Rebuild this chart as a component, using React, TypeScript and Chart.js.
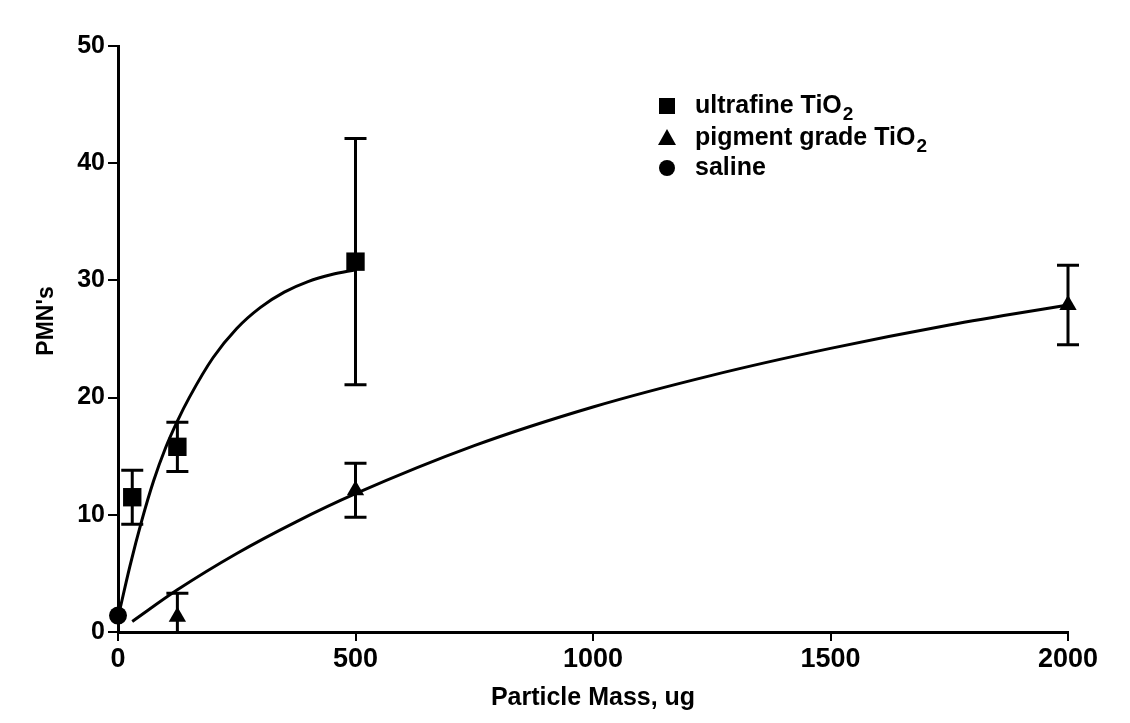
import React, { useEffect, useRef } from "react";
import { Chart, registerables } from "chart.js";

Chart.register(...registerables);

// Measured group means (PMN count) and error half-widths
const ultrafineDose = [30, 125, 500];
const ultrafinePMN = [11.5, 15.8, 31.6];
const ultrafineErr = [2.3, 2.1, 10.5];

const pigmentDose = [125, 500, 2000];
const pigmentPMN = [1.3, 12.1, 27.9];
const pigmentErr = [2.0, 2.3, 3.4];

const salineDose = [0];
const salinePMN = [1.4];

// Fitted dose-response curves
const ultrafineFitDose = [0, 25, 50, 75, 100, 125, 150, 200, 250, 300, 350, 400, 450, 500];
const ultrafineFitPMN = [1.2, 5.6, 9.5, 12.9, 15.7, 18.0, 20.0, 23.4, 25.9, 27.7, 29.0, 29.9, 30.5, 30.9];

const pigmentFitDose = [30, 125, 250, 375, 500, 750, 1000, 1250, 1500, 1750, 2000];
const pigmentFitPMN = [0.9, 3.6, 6.7, 9.4, 11.8, 15.9, 19.2, 21.9, 24.2, 26.2, 27.9];

// Axis ticks and labels
const xTicks = [0, 500, 1000, 1500, 2000];
const yTicks = [0, 10, 20, 30, 40, 50];
const xTitle = "Particle Mass, ug";
const yTitle = "PMN's";
const legendNames = ["ultrafine TiO", "pigment grade TiO", "saline"];
const legendSub = ["2", "2", ""];

const FONT = "'Liberation Sans', Arial, Helvetica, sans-serif";

const toPoints = (xs: number[], ys: number[]) => xs.map((x, i) => ({ x, y: ys[i] }));

const errorBarPlugin = {
  id: "errorBars",
  afterDatasetsDraw(chart: any) {
    const { ctx, scales, chartArea } = chart;
    const xs = scales.x;
    const ys = scales.y;
    const groups = [
      { d: ultrafineDose, m: ultrafinePMN, e: ultrafineErr },
      { d: pigmentDose, m: pigmentPMN, e: pigmentErr },
    ];
    ctx.save();
    ctx.beginPath();
    ctx.rect(chartArea.left - 20, chartArea.top - 20, chartArea.right - chartArea.left + 40, chartArea.bottom - chartArea.top + 20);
    ctx.clip();
    ctx.strokeStyle = "#000";
    ctx.lineWidth = 3;
    const cap = 11;
    groups.forEach((g) => {
      g.d.forEach((dose, i) => {
        const px = xs.getPixelForValue(dose);
        const top = ys.getPixelForValue(g.m[i] + g.e[i]);
        const bot = ys.getPixelForValue(g.m[i] - g.e[i]);
        ctx.beginPath();
        ctx.moveTo(px, top);
        ctx.lineTo(px, bot);
        ctx.moveTo(px - cap, top);
        ctx.lineTo(px + cap, top);
        ctx.moveTo(px - cap, bot);
        ctx.lineTo(px + cap, bot);
        ctx.stroke();
      });
    });
    ctx.restore();
  },
};

const annotationPlugin = {
  id: "titlesAndKey",
  afterDraw(chart: any) {
    const { ctx } = chart;
    ctx.save();
    ctx.fillStyle = "#000";

    // rotated y-axis title
    ctx.save();
    ctx.translate(47, 321);
    ctx.rotate(-Math.PI / 2);
    ctx.font = `bold 23px ${FONT}`;
    ctx.textAlign = "center";
    ctx.textBaseline = "middle";
    ctx.fillText(yTitle, 0, 0);
    ctx.restore();

    // key
    const mx = 667;
    const tx = 695;
    const rows = [106, 138, 168];
    ctx.textBaseline = "middle";
    ctx.textAlign = "left";
    rows.forEach((ry, i) => {
      ctx.beginPath();
      if (i === 0) {
        ctx.rect(mx - 8, ry - 8, 16, 16);
      } else if (i === 1) {
        ctx.moveTo(mx, ry - 9);
        ctx.lineTo(mx + 9, ry + 7);
        ctx.lineTo(mx - 9, ry + 7);
        ctx.closePath();
      } else {
        ctx.arc(mx, ry, 8, 0, Math.PI * 2);
      }
      ctx.fill();
      ctx.font = `bold 25px ${FONT}`;
      ctx.fillText(legendNames[i], tx, ry);
      if (legendSub[i]) {
        const w = ctx.measureText(legendNames[i]).width;
        ctx.font = `bold 19px ${FONT}`;
        ctx.fillText(legendSub[i], tx + w + 1, ry + 9);
      }
    });
    ctx.restore();
  },
};

export default function App() {
  const canvasRef = useRef<HTMLCanvasElement | null>(null);

  useEffect(() => {
    const canvas = canvasRef.current;
    if (!canvas) return;
    const chart = new Chart(canvas, {
      type: "scatter",
      data: {
        datasets: [
          {
            label: "ultrafine fit",
            data: toPoints(ultrafineFitDose, ultrafineFitPMN),
            showLine: true,
            borderColor: "#000",
            borderWidth: 3,
            pointRadius: 0,
            cubicInterpolationMode: "monotone",
            clip: false,
          },
          {
            label: "pigment fit",
            data: toPoints(pigmentFitDose, pigmentFitPMN),
            showLine: true,
            borderColor: "#000",
            borderWidth: 3,
            pointRadius: 0,
            cubicInterpolationMode: "monotone",
            clip: false,
          },
          {
            label: "ultrafine TiO2",
            data: toPoints(ultrafineDose, ultrafinePMN),
            pointStyle: "rect",
            pointRadius: 13,
            backgroundColor: "#000",
            borderColor: "#000",
            borderWidth: 0,
            clip: false,
          },
          {
            label: "pigment grade TiO2",
            data: toPoints(pigmentDose, pigmentPMN),
            pointStyle: "triangle",
            pointRadius: 10,
            backgroundColor: "#000",
            borderColor: "#000",
            borderWidth: 0,
            clip: false,
          },
          {
            label: "saline",
            data: toPoints(salineDose, salinePMN),
            pointStyle: "circle",
            pointRadius: 9,
            backgroundColor: "#000",
            borderColor: "#000",
            borderWidth: 0,
            clip: false,
          },
        ] as any,
      },
      options: {
        responsive: false,
        animation: false,
        events: [],
        layout: { padding: { top: 46, right: 62, bottom: 0, left: 0 } },
        plugins: {
          legend: { display: false },
          tooltip: { enabled: false },
        },
        scales: {
          x: {
            type: "linear",
            min: 0,
            max: 2000,
            afterFit: (s: any) => {
              s.height = 91;
            },
            afterBuildTicks: (s: any) => {
              s.ticks = xTicks.map((v) => ({ value: v }));
            },
            ticks: {
              color: "#000",
              font: { family: FONT, size: 27, weight: "bold" },
              maxRotation: 0,
              autoSkip: false,
              padding: 2,
              callback: (v: any) => String(v),
            },
            grid: {
              display: true,
              drawOnChartArea: false,
              drawTicks: true,
              tickLength: 9,
              color: "#000",
              lineWidth: 2,
            },
            border: { display: true, color: "#000", width: 3 },
            title: {
              display: true,
              text: xTitle,
              color: "#000",
              font: { family: FONT, size: 25, weight: "bold" },
              padding: { top: 0, bottom: 10 },
            },
          },
          y: {
            type: "linear",
            min: 0,
            max: 50,
            afterFit: (s: any) => {
              s.width = 118;
            },
            afterBuildTicks: (s: any) => {
              s.ticks = yTicks.map((v) => ({ value: v }));
            },
            ticks: {
              color: "#000",
              font: { family: FONT, size: 25, weight: "bold" },
              padding: 3,
              callback: (v: any) => String(v),
            },
            grid: {
              display: true,
              drawOnChartArea: false,
              drawTicks: true,
              tickLength: 10,
              color: "#000",
              lineWidth: 2,
            },
            border: { display: true, color: "#000", width: 3 },
          },
        },
      } as any,
      plugins: [errorBarPlugin, annotationPlugin],
    });
    return () => chart.destroy();
  }, []);

  return (
    <div style={{ position: "fixed", left: 0, top: 0, width: 1130, height: 723, background: "#fff" }}>
      <canvas ref={canvasRef} width={1130} height={723} style={{ display: "block" }} />
    </div>
  );
}
